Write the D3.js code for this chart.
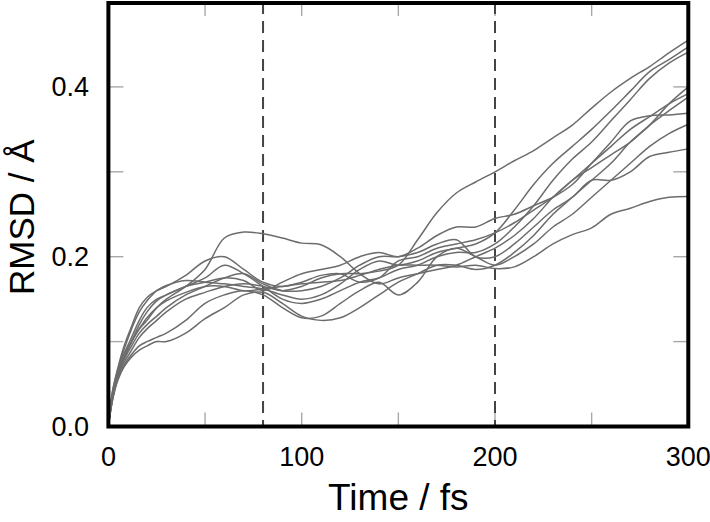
<!DOCTYPE html>
<html>
<head>
<meta charset="utf-8">
<script src="https://cdn.jsdelivr.net/npm/d3@7"></script>
<style>
  html, body { margin: 0; padding: 0; background: #fff; }
  svg { display: block; }
  text { font-family: "Liberation Sans", Arial, sans-serif; fill: #000; }
</style>
</head>
<body>
<svg id="chart" width="710" height="522"></svg>
<script>
// ---- data ----
const times = [0,2,5,8,12,16,20,25,30,40,50,60,70,80,90,100,110,120,130,140,150,160,170,180,190,200,210,220,230,240,250,260,270,280,290,300];

const run1  = [0,0.035,0.065,0.085,0.100,0.115,0.125,0.140,0.150,0.165,0.185,0.222,0.229,0.227,0.222,0.216,0.214,0.200,0.180,0.168,0.175,0.180,0.185,0.190,0.200,0.210,0.225,0.245,0.270,0.290,0.310,0.330,0.350,0.365,0.380,0.392];
const run2  = [0,0.030,0.060,0.075,0.090,0.105,0.115,0.125,0.135,0.150,0.158,0.165,0.168,0.165,0.160,0.165,0.175,0.180,0.180,0.183,0.190,0.220,0.252,0.275,0.288,0.300,0.313,0.325,0.340,0.355,0.375,0.394,0.410,0.424,0.440,0.455];
const run3  = [0,0.040,0.068,0.090,0.115,0.135,0.148,0.160,0.166,0.172,0.170,0.168,0.165,0.162,0.155,0.150,0.155,0.168,0.185,0.195,0.190,0.195,0.205,0.210,0.215,0.228,0.255,0.285,0.310,0.330,0.350,0.372,0.395,0.418,0.432,0.447];
const run4  = [0,0.035,0.062,0.080,0.100,0.120,0.135,0.148,0.155,0.165,0.175,0.190,0.180,0.165,0.150,0.145,0.150,0.160,0.170,0.175,0.185,0.190,0.200,0.205,0.205,0.215,0.235,0.260,0.290,0.315,0.335,0.360,0.385,0.410,0.428,0.441];
const run5  = [0,0.030,0.055,0.070,0.082,0.090,0.095,0.100,0.100,0.110,0.127,0.140,0.155,0.158,0.145,0.130,0.125,0.128,0.140,0.155,0.170,0.180,0.190,0.190,0.185,0.190,0.205,0.225,0.250,0.270,0.290,0.310,0.335,0.355,0.380,0.400];
const run6  = [0,0.040,0.070,0.094,0.118,0.140,0.152,0.160,0.165,0.178,0.195,0.200,0.185,0.170,0.165,0.170,0.178,0.180,0.170,0.175,0.195,0.200,0.210,0.215,0.220,0.228,0.240,0.255,0.270,0.290,0.305,0.320,0.335,0.355,0.372,0.388];
const run7  = [0,0.035,0.065,0.085,0.105,0.125,0.140,0.150,0.155,0.165,0.170,0.175,0.172,0.160,0.170,0.180,0.185,0.190,0.200,0.205,0.200,0.210,0.225,0.235,0.235,0.245,0.250,0.260,0.270,0.285,0.310,0.335,0.360,0.366,0.367,0.369];
const run8  = [0,0.030,0.058,0.072,0.085,0.095,0.100,0.105,0.110,0.125,0.145,0.155,0.160,0.155,0.140,0.128,0.130,0.145,0.160,0.170,0.155,0.170,0.200,0.210,0.200,0.190,0.200,0.215,0.235,0.250,0.270,0.290,0.310,0.330,0.345,0.356];
const run9  = [0,0.032,0.060,0.078,0.095,0.110,0.120,0.130,0.140,0.155,0.165,0.175,0.180,0.168,0.160,0.160,0.165,0.175,0.190,0.200,0.200,0.205,0.215,0.220,0.200,0.200,0.215,0.235,0.255,0.270,0.290,0.290,0.300,0.318,0.323,0.327];
const run10 = [0,0.035,0.065,0.080,0.100,0.115,0.128,0.140,0.148,0.158,0.165,0.165,0.160,0.162,0.165,0.168,0.170,0.172,0.178,0.185,0.190,0.190,0.190,0.188,0.190,0.186,0.188,0.200,0.215,0.226,0.234,0.250,0.257,0.265,0.270,0.271];

const runs = [run1, run2, run3, run4, run5, run6, run7, run8, run9, run10];
const markerTimes = [80, 200];
const xTickValues = [0, 100, 200, 300];
const xMinorTicks = [0, 50, 100, 150, 200, 250, 300];
const yTickValues = [0.0, 0.2, 0.4];
const yMinorTicks = [0.0, 0.1, 0.2, 0.3, 0.4, 0.5];
const xLabel = "Time / fs";
const yLabel = "RMSD / Å";

// ---- layout ----
const svg = d3.select("#chart");
const pLeft = 108.4, pRight = 688.3, pTop = 2, pBottom = 426.5;

const x = d3.scaleLinear().domain([0, 300]).range([pLeft, pRight]);
const y = d3.scaleLinear().domain([0, 0.5]).range([pBottom, pTop]);

svg.append("defs").append("clipPath").attr("id", "clip")
  .append("rect").attr("x", pLeft).attr("y", pTop).attr("width", pRight - pLeft).attr("height", pBottom - pTop);

// minor ticks (inside, grey)
const tickG = svg.append("g").attr("stroke", "#a8a8a8").attr("stroke-width", 1.4);
xMinorTicks.forEach(t => {
  tickG.append("line").attr("x1", x(t)).attr("x2", x(t)).attr("y1", pBottom).attr("y2", pBottom - 14);
  tickG.append("line").attr("x1", x(t)).attr("x2", x(t)).attr("y1", pTop).attr("y2", pTop + 14);
});
yMinorTicks.forEach(v => {
  tickG.append("line").attr("x1", pLeft).attr("x2", pLeft + 15).attr("y1", y(v)).attr("y2", y(v));
  tickG.append("line").attr("x1", pRight).attr("x2", pRight - 15).attr("y1", y(v)).attr("y2", y(v));
});

// dashed markers
svg.append("g").selectAll("line").data(markerTimes).join("line")
  .attr("x1", d => x(d)).attr("x2", d => x(d))
  .attr("y1", pTop).attr("y2", pBottom)
  .attr("stroke", "#444").attr("stroke-width", 2)
  .attr("stroke-dasharray", "12,7");

// lines
const line = d3.line()
  .x((d, i) => x(times[i]))
  .y(d => y(d))
  .curve(d3.curveCatmullRom.alpha(0.5));

svg.append("g").attr("clip-path", "url(#clip)")
  .selectAll("path").data(runs).join("path")
  .attr("d", d => line(d))
  .attr("fill", "none")
  .attr("stroke", "#6c6c6c")
  .attr("stroke-width", 1.5);

// frame
svg.append("rect")
  .attr("x", pLeft).attr("y", pTop + 1)
  .attr("width", pRight - pLeft).attr("height", pBottom - 1 - pTop)
  .attr("fill", "none").attr("stroke", "#000").attr("stroke-width", 4);

// tick labels
svg.append("g").selectAll("text").data(xTickValues).join("text")
  .attr("x", d => x(d)).attr("y", 466)
  .attr("text-anchor", "middle")
  .attr("font-size", 27)
  .text(d => d3.format("d")(d));

svg.append("g").selectAll("text").data(yTickValues).join("text")
  .attr("x", 89).attr("y", d => y(d) + 9.5)
  .attr("text-anchor", "end")
  .attr("font-size", 27)
  .text(d => d3.format(".1f")(d));

// axis titles
svg.append("text")
  .attr("x", (pLeft + pRight) / 2).attr("y", 510)
  .attr("text-anchor", "middle")
  .attr("font-size", 37)
  .text(xLabel);

svg.append("text")
  .attr("transform", `translate(34, ${(pTop + pBottom) / 2 + 3}) rotate(-90)`)
  .attr("text-anchor", "middle")
  .attr("font-size", 35)
  .text(yLabel);
</script>
</body>
</html>
